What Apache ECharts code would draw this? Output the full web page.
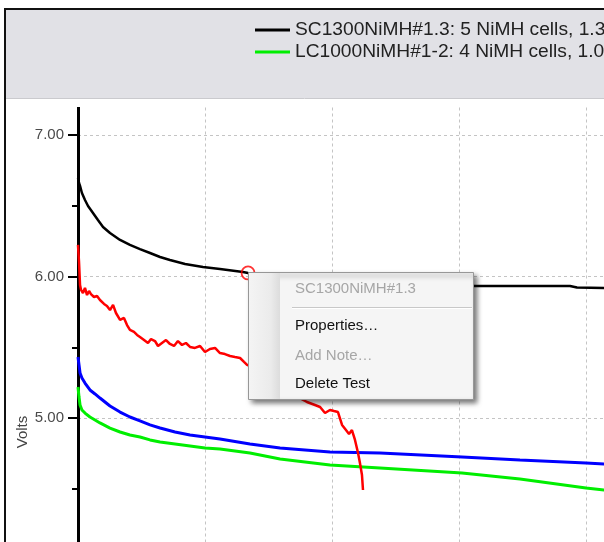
<!DOCTYPE html>
<html><head><meta charset="utf-8">
<script src="https://cdn.jsdelivr.net/npm/echarts@6/dist/echarts.min.js"></script>
<style>html,body{margin:0;padding:0;background:#fff}#c{width:604px;height:542px}</style>
</head><body><div id="c"></div>
<script>
// ---- data (x in grid units, y in volts) ----
const legendNames = ['SC1300NiMH#1.3: 5 NiMH cells, 1.3 Ah', 'LC1000NiMH#1-2: 4 NiMH cells, 1.0 Ah'];
const otherNames = ['Test C', 'Test D'];
const yTickValues = [5, 6, 7];

const blackX = [0,0.008,0.016,0.031,0.055,0.079,0.118,0.157,0.197,0.252,0.331,0.409,0.488,0.567,0.646,0.724,0.843,0.984,1.118,1.299,1.339,1.748,2.142,2.535,2.929,3.126,3.874,3.929,4.142,4.898];
const blackY = [6.696,6.661,6.640,6.590,6.541,6.498,6.449,6.399,6.350,6.307,6.258,6.223,6.194,6.166,6.138,6.117,6.088,6.067,6.053,6.032,6.025,5.989,5.968,5.954,5.940,5.933,5.933,5.922,5.919,5.915];

const redX = [0,0.008,0.016,0.024,0.039,0.055,0.071,0.087,0.102,0.126,0.150,0.173,0.205,0.228,0.252,0.276,0.299,0.331,0.362,0.386,0.409,0.441,0.465,0.488,0.520,0.551,0.575,0.606,0.630,0.661,0.693,0.724,0.756,0.787,0.819,0.850,0.882,0.921,0.961,1.000,1.039,1.079,1.118,1.157,1.197,1.236,1.276,1.307,1.331,1.433,1.591,1.748,1.803,1.866,1.906,1.945,1.984,2.016,2.047,2.079,2.110,2.134,2.157,2.181,2.205,2.220,2.236,2.244];
const redY = [6.223,6.102,5.940,5.905,5.883,5.919,5.869,5.898,5.876,5.855,5.862,5.834,5.806,5.792,5.763,5.799,5.742,5.693,5.707,5.657,5.622,5.608,5.587,5.572,5.551,5.530,5.558,5.544,5.509,5.530,5.551,5.523,5.509,5.544,5.516,5.530,5.502,5.495,5.509,5.466,5.488,5.495,5.459,5.452,5.438,5.431,5.424,5.396,5.375,5.339,5.233,5.141,5.113,5.092,5.078,5.035,5.057,5.049,5.042,4.951,4.915,4.887,4.915,4.845,4.753,4.682,4.597,4.491];

const blueX = [0,0.008,0.016,0.031,0.055,0.094,0.134,0.173,0.252,0.331,0.409,0.488,0.567,0.646,0.764,0.882,1.000,1.118,1.354,1.591,1.984,2.378,3.024,3.480,4.000,4.142,4.898];
const blueY = [5.431,5.375,5.318,5.283,5.247,5.198,5.170,5.141,5.085,5.042,5.007,4.979,4.951,4.929,4.901,4.880,4.866,4.852,4.816,4.788,4.760,4.753,4.724,4.703,4.682,4.675,4.654];

const greenX = [0,0.008,0.016,0.031,0.055,0.094,0.134,0.173,0.252,0.331,0.409,0.488,0.567,0.646,0.764,0.882,1.000,1.118,1.354,1.591,1.984,2.378,3.024,3.480,4.000,4.142,4.898];
const greenY = [5.219,5.148,5.092,5.057,5.035,5.007,4.986,4.965,4.929,4.901,4.880,4.866,4.845,4.830,4.816,4.802,4.788,4.781,4.753,4.710,4.668,4.647,4.611,4.569,4.505,4.491,4.420];

const markerX = [1.339];
const markerY = [6.025];

const menuHeader = 'SC1300NiMH#1.3';
const menuItems = ['Properties…', 'Add Note…', 'Delete Test'];
const axisName = 'Volts';

const zip = (xs, ys) => xs.map((x, i) => [x, ys[i]]);
const FONT = 'Liberation Sans';

const chart = echarts.init(document.getElementById('c'), null, {renderer: 'canvas'});
const option = {
  animation: false,
  backgroundColor: '#ffffff',
  grid: {left: 78, right: -109, top: -6.5, bottom: -17.5, containLabel: false, outerBoundsMode: 'none'},
  xAxis: {
    type: 'value', min: 0, max: 5, interval: 1,
    axisLine: {show: false}, axisTick: {show: false}, axisLabel: {show: false},
    splitLine: {show: true, lineStyle: {color: '#c4c4c4', type: [3, 3], width: 1}}
  },
  yAxis: {
    type: 'value', min: 4, max: 8, interval: 1,
    axisLine: {show: true, onZero: false, lineStyle: {color: '#000', width: 3}},
    axisTick: {show: true, length: 10, lineStyle: {color: '#000', width: 2}},
    minorTick: {show: true, splitNumber: 2, length: 6, lineStyle: {color: '#000', width: 2}},
    axisLabel: {margin: 14, color: '#4a4a4a', fontFamily: FONT, fontSize: 15,
      formatter: v => (yTickValues.indexOf(v) >= 0 ? v.toFixed(2) : '')},
    splitLine: {show: true, lineStyle: {color: '#c4c4c4', type: [3, 3], width: 1}}
  },
  legend: {
    data: legendNames, orient: 'vertical', left: 255, top: 20.5, padding: 0,
    itemWidth: 35, itemHeight: 3, itemGap: 3, icon: 'rect', selectedMode: false, z: 200,
    textStyle: {fontFamily: FONT, fontSize: 19.2, color: '#222', lineHeight: 19}
  },
  series: [
    {name: legendNames[1], type: 'line', data: zip(greenX, greenY), showSymbol: false, color: '#00ee00', lineStyle: {color: '#00ee00', width: 3}, z: 2},
    {name: otherNames[1], type: 'line', data: zip(blueX, blueY), showSymbol: false, color: '#0000ff', lineStyle: {color: '#0000ff', width: 3}, z: 3},
    {name: otherNames[0], type: 'line', data: zip(redX, redY), showSymbol: false, color: '#ff0000', lineStyle: {color: '#ff0000', width: 2.5}, z: 4},
    {name: legendNames[0], type: 'line', data: zip(blackX, blackY), showSymbol: false, color: '#000000', lineStyle: {color: '#000000', width: 2.5}, z: 5},
    {name: 'selected', type: 'scatter', data: zip(markerX, markerY), symbol: 'circle', symbolSize: 13, z: 6,
      itemStyle: {color: 'rgba(0,0,0,0)', borderColor: '#ff0000', borderWidth: 1.8}}
  ],
  graphic: {
    elements: [
      {type: 'rect', z: 100, shape: {x: 0, y: 0, width: 604, height: 107}, style: {fill: '#ffffff'}},
      {type: 'rect', z: 101, shape: {x: 5, y: 10, width: 610, height: 88}, style: {fill: '#e1e1e6'}},
      {type: 'line', z: 101, shape: {x1: 5, y1: 98.5, x2: 604, y2: 98.5}, style: {stroke: '#cacace', lineWidth: 1}},
      {type: 'rect', z: 102, shape: {x: 4, y: 8, width: 610, height: 2}, style: {fill: '#111'}},
      {type: 'rect', z: 102, shape: {x: 4, y: 8, width: 2, height: 540}, style: {fill: '#111'}},
      {type: 'text', z: 102, x: 23, y: 432, rotation: Math.PI / 2,
        style: {text: axisName, fill: '#444', font: '15px "Liberation Sans"', align: 'center', verticalAlign: 'middle'}},
      // context menu
      {type: 'rect', z: 150, shape: {x: 248.5, y: 272.5, width: 225, height: 127},
        style: {fill: '#f5f5f5', stroke: '#979797', lineWidth: 1, shadowBlur: 5, shadowOffsetX: 3, shadowOffsetY: 3, shadowColor: 'rgba(0,0,0,0.55)'}},
      {type: 'rect', z: 151, shape: {x: 249, y: 273, width: 31, height: 126},
        style: {fill: new echarts.graphic.LinearGradient(0, 0, 1, 0, [{offset: 0, color: '#f4f4f4'}, {offset: 0.7, color: '#ebebeb'}, {offset: 1, color: '#dcdcdc'}])}},
      {type: 'line', z: 151, shape: {x1: 292, y1: 307.5, x2: 472, y2: 307.5}, style: {stroke: '#c8c8c8', lineWidth: 1}},
      {type: 'line', z: 151, shape: {x1: 292, y1: 308.5, x2: 472, y2: 308.5}, style: {stroke: '#ffffff', lineWidth: 1}},
      {type: 'text', z: 152, x: 295, y: 289, style: {text: menuHeader, fill: '#a6a6a6', font: '15px "Liberation Sans"', verticalAlign: 'middle'}},
      {type: 'text', z: 152, x: 295, y: 326, style: {text: menuItems[0], fill: '#111', font: '15px "Liberation Sans"', verticalAlign: 'middle'}},
      {type: 'text', z: 152, x: 295, y: 356, style: {text: menuItems[1], fill: '#a6a6a6', font: '15px "Liberation Sans"', verticalAlign: 'middle'}},
      {type: 'text', z: 152, x: 295, y: 384, style: {text: menuItems[2], fill: '#111', font: '15px "Liberation Sans"', verticalAlign: 'middle'}}
    ]
  }
};
chart.setOption(option);
</script>
</body></html>
